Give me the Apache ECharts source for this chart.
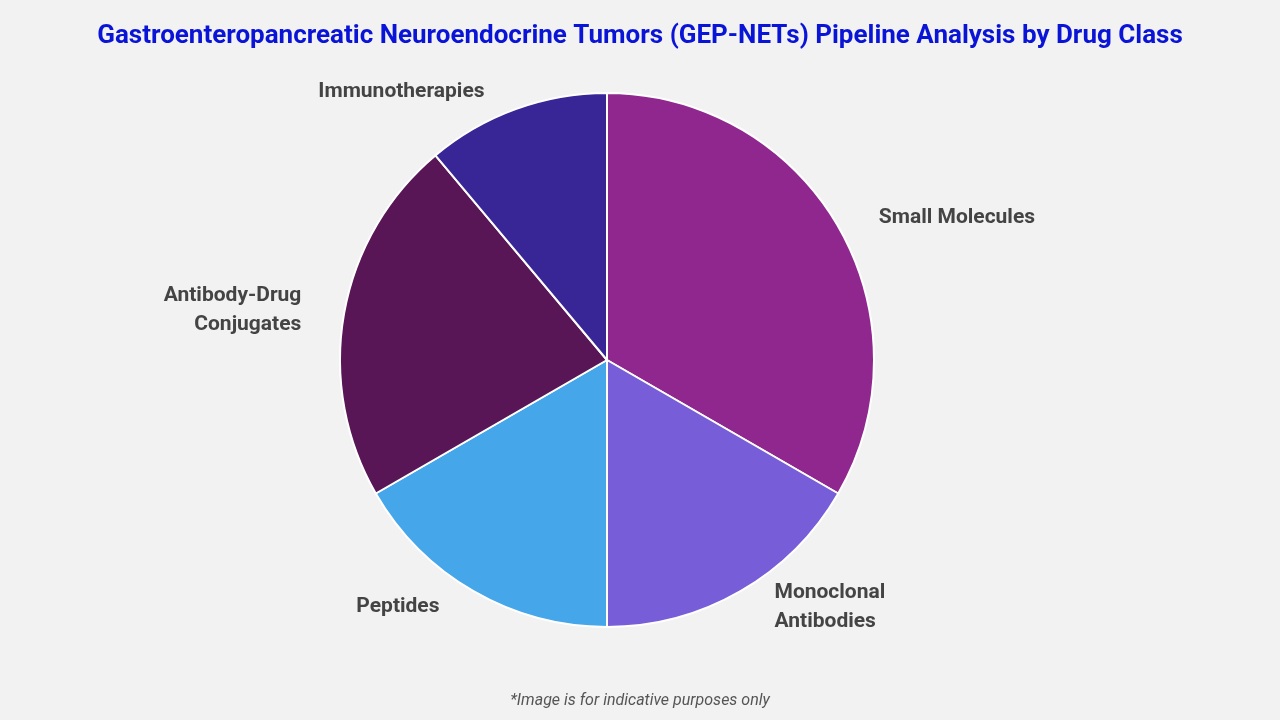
<!DOCTYPE html>
<html><head><meta charset="utf-8">
<script src="https://cdn.jsdelivr.net/npm/echarts@6/dist/echarts.min.js"></script>
<style>html,body{margin:0;padding:0;background:#f2f2f2;}#c{width:1280px;height:720px;}</style>
</head><body><div id="c"></div>
<script>
const categories = ["Small Molecules","Monoclonal\nAntibodies","Peptides","Antibody-Drug\nConjugates","Immunotherapies"];
const values = [30,15,15,20,10];
const colors = ["#90278E","#775DD8","#46A6EA","#581656","#392696"];
const chart = echarts.init(document.getElementById('c'));
chart.setOption({
  backgroundColor:'#f2f2f2',
  title:[{text:'Gastroenteropancreatic Neuroendocrine Tumors (GEP-NETs) Pipeline Analysis by Drug Class',left:'center',top:18,
    textStyle:{fontFamily:'Roboto',fontWeight:'bold',fontSize:26,color:'#0A14D6'}},
    {text:'*Image is for indicative purposes only',left:'center',bottom:6,textStyle:{fontFamily:'Roboto',fontStyle:'italic',fontWeight:'normal',fontSize:16,color:'#555'}}],
  series:[{type:'pie',center:[607,360],radius:267,startAngle:90,clockwise:true,
    data:categories.map((n,i)=>({name:n,value:values[i],itemStyle:{color:colors[i]}})),
    itemStyle:{borderColor:'#fff',borderWidth:2},
    label:{show:true,position:'outside',fontFamily:'Roboto',fontWeight:'bold',fontSize:21,color:'#444',lineHeight:29,align:'center'},
    labelLine:{show:false,length:18,length2:20},
    emphasis:{disabled:true}}]
});
</script></body></html>
